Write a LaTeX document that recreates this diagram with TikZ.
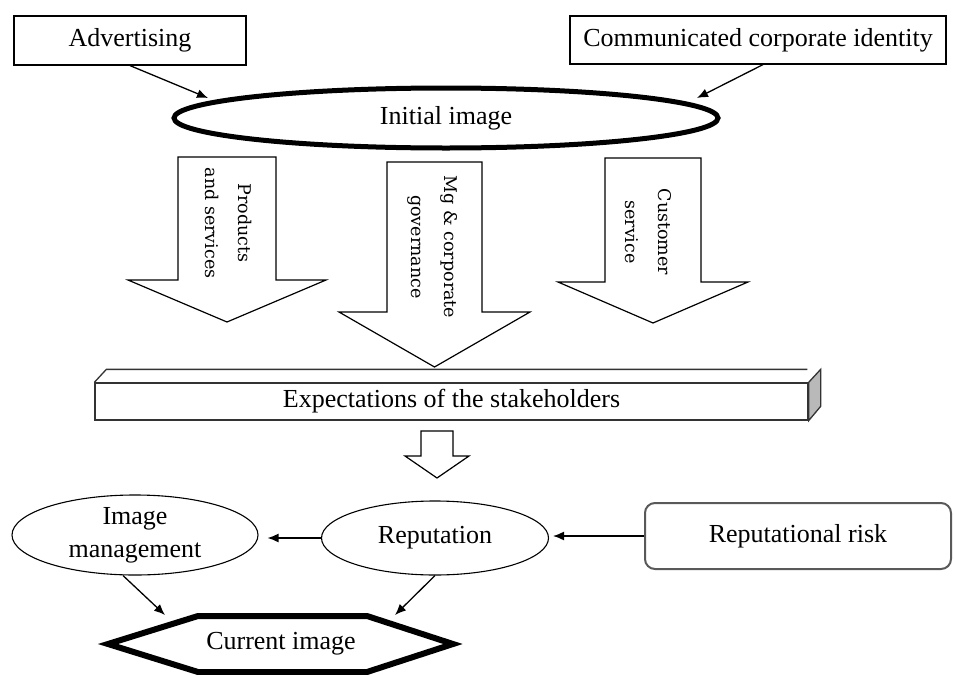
\documentclass[tikz,border=0pt]{standalone}
\usepackage{fontspec}
\setmainfont{Liberation Serif}
\newfontfamily\arrowfont{DejaVu Serif}
\usetikzlibrary{shapes.geometric,arrows.meta}

\tikzset{
  box/.style={draw, line width=1.2pt, inner sep=0pt},
  oval/.style={draw, ellipse, line width=1.1pt, inner sep=0pt, align=center},
  link/.style={line width=1.3pt, -{Latex[length=11pt,width=9pt]}},
  bigarrow/.style={draw, line width=1.2pt, fill=white, line join=miter},
  armlabel/.style={rotate=-90, align=center, font=\arrowfont\fontsize{17.5}{33}\selectfont},
}

\begin{document}
\begin{tikzpicture}[x=1pt, y=-1pt, font=\fontsize{26}{33}\selectfont]
		\useasboundingbox (0,0) rectangle (954,675);

		% Sources of the image
		\node[box, minimum width=232pt, minimum height=49pt] (adv) at (130,40.5) {Advertising};
		\node[box, minimum width=376pt, minimum height=48pt] (cci) at (758,40) {Communicated corporate identity};
		\node[oval, line width=5pt, minimum width=544pt, minimum height=60pt] (init) at (446,118) {Initial image};

		\coordinate (initA) at (208,98);
		\coordinate (initB) at (697,98);
		\draw[link] (adv.south) -- (initA);
		\draw[link] ([xshift=5pt]cci.south) -- (initB);

		% Block arrows
		\draw[bigarrow] (178,157) -- (276,157) -- (276,280) -- (326,280) -- (227,322) -- (128,280) -- (178,280) -- cycle;
		\draw[bigarrow] (387,162) -- (482,162) -- (482,312) -- (530,312) -- (434.5,367) -- (339,312) -- (387,312) -- cycle;
		\draw[bigarrow] (605,158) -- (701,158) -- (701,282) -- (748,282) -- (653,323) -- (558,282) -- (605,282) -- cycle;

		\node[armlabel] (prod) at (229,223) {Products\\and services};
		\node[armlabel] (mgmt) at (433,247) {Mg \& corporate\\governance};
		\node[armlabel] (cust) at (648,232) {Customer\\service};

		% Expectations bar
		\node[box, line width=1.3pt, draw=black!80, minimum width=713pt, minimum height=37pt] (exp) at (451.5,401.5) {Expectations of the stakeholders};
		\filldraw[fill=gray!55, draw=black!80, line width=1.3pt] (exp.north east) -- ++(12,-13) -- ++(0,37) -- (exp.south east) -- cycle;
		\draw[line width=1.3pt, draw=black!80] (exp.north west) -- ++(12,-13) -- ++(701,0);

		% Small arrow
		\draw[bigarrow] (421,431) -- (453,431) -- (453,456) -- (469,456) -- (437,478) -- (405,456) -- (421,456) -- cycle;

		% Bottom row
		\node[oval, minimum width=246pt, minimum height=80pt] (im) at (135,535) {Image\\management};
		\node[oval, minimum width=227pt, minimum height=74pt] (rep) at (435,538) {Reputation};
		\node[box, draw=black!65, line width=2pt, rounded corners=10pt, minimum width=306pt, minimum height=66pt] (risk) at (798,536) {Reputational risk};

		\draw[link, shorten >=9pt] (rep.west) -- (rep.west -| im.east);
		\draw[link, shorten >=4pt] (risk.west) -- (risk.west -| rep.east);

		% Current image
		\node (cur) at (281,644) {Current image};
		\draw[line width=6pt, line join=miter] (108,644) -- (198,616) -- (367,616) -- (453,644) -- (367,672) -- (198,672) -- cycle;

		\coordinate (curL) at (165,615);
		\coordinate (curR) at (395,615);
		\draw[link] ([xshift=-12pt]im.south) -- (curL);
		\draw[link] (rep.south) -- (curR);
	\end{tikzpicture}
\end{document}
